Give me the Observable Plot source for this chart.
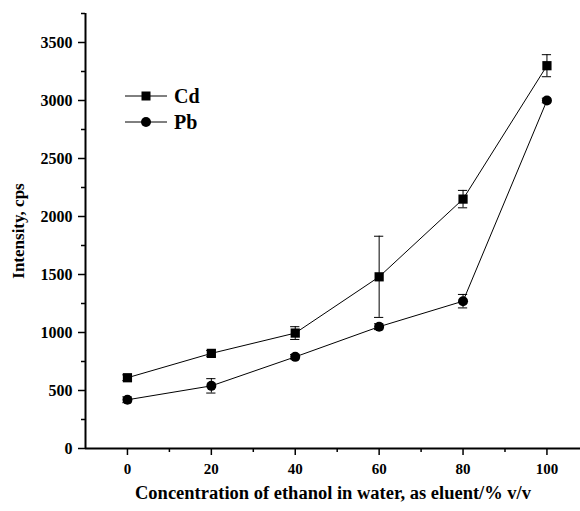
<!DOCTYPE html>
<html>
<head>
<meta charset="utf-8">
<script src="https://cdn.jsdelivr.net/npm/d3@7"></script>
<script src="https://cdn.jsdelivr.net/npm/@observablehq/plot@0.6"></script>
<style>
  html, body { margin: 0; padding: 0; background: #fff; }
  #chart svg { display: block; }
  #chart svg, #chart svg text { font-family: "Liberation Serif", "DejaVu Serif", serif !important; font-weight: bold; }
</style>
</head>
<body>
<div id="chart"></div>
<script>
const concentrations = [0, 20, 40, 60, 80, 100];
const cdValues = [610, 820, 995, 1480, 2150, 3300];
const cdErrors = [25, 25, 55, 350, 75, 95];
const pbValues = [420, 540, 790, 1050, 1270, 3000];
const pbErrors = [25, 62, 20, 25, 58, 20];
const seriesNames = ["Cd", "Pb"];
const xMajorTicks = [0, 20, 40, 60, 80, 100];
const xMinorTicks = [10, 30, 50, 70, 90];
const yMajorTicks = [0, 500, 1000, 1500, 2000, 2500, 3000, 3500];
const yMinorTicks = [250, 750, 1250, 1750, 2250, 2750, 3250, 3750];

const cd = concentrations.map((x, i) => ({x, y: cdValues[i], e: cdErrors[i], s: "Cd"}));
const pb = concentrations.map((x, i) => ({x, y: pbValues[i], e: pbErrors[i], s: "Pb"}));
const all = cd.concat(pb);
const capHalf = 1.1;

const font = "Liberation Serif, DejaVu Serif, serif";

const plot = Plot.plot({
  width: 580,
  height: 511,
  marginLeft: 85,
  marginTop: 13,
  marginBottom: 63,
  marginRight: 0,
  style: {fontWeight: "bold", fontSize: "15px", color: "#000", background: "#fff"},
  x: {domain: [-10, 108]},
  y: {domain: [0, 3750]},
  marks: [
    Plot.axisY({ticks: yMajorTicks, tickSize: 7, tickPadding: 6, strokeWidth: 1.5, tickFormat: "d",
      label: "Intensity, cps", labelAnchor: "center", labelArrow: "none", labelOffset: 74, fontSize: 16}),
    Plot.axisY({ticks: yMinorTicks, tickSize: 4, text: null, label: null, strokeWidth: 1.5}),
    Plot.axisX({ticks: xMajorTicks, tickSize: 7, tickPadding: 8, strokeWidth: 1.5, tickFormat: "d",
      label: "Concentration of ethanol in water, as eluent/% v/v", labelAnchor: "center", labelArrow: "none", labelOffset: 50, fontSize: 15}),
    Plot.axisX({ticks: xMinorTicks, tickSize: 4, text: null, label: null, strokeWidth: 1.5}),
    Plot.ruleX([-10], {strokeWidth: 2}),
    Plot.ruleY([0], {strokeWidth: 2}),
    Plot.line(all, {x: "x", y: "y", z: "s", stroke: "#000", strokeWidth: 1}),
    Plot.ruleX(all, {x: "x", y1: d => d.y - d.e, y2: d => d.y + d.e, stroke: "#000", strokeWidth: 1}),
    Plot.ruleY(all, {y: d => d.y - d.e, x1: d => d.x - capHalf, x2: d => d.x + capHalf, stroke: "#000", strokeWidth: 1}),
    Plot.ruleY(all, {y: d => d.y + d.e, x1: d => d.x - capHalf, x2: d => d.x + capHalf, stroke: "#000", strokeWidth: 1}),
    Plot.dot(cd, {x: "x", y: "y", symbol: "square", r: 5.2, fill: "#000", stroke: "none"}),
    Plot.dot(pb, {x: "x", y: "y", symbol: "circle", r: 5, fill: "#000", stroke: "none"})
  ]
});

const svg = d3.select(plot);
svg.attr("font-family", font);
svg.selectAll("[aria-label='y-axis label'] text").style("font-size", "17px");
svg.selectAll("[aria-label='x-axis label'] text").style("font-size", "18.5px");

// legend inside plot frame
const legend = svg.append("g").attr("font-size", 20);
const symbols = ["square", "circle"];
seriesNames.forEach((name, i) => {
  const y = 96 + i * 26;
  legend.append("line").attr("x1", 125).attr("x2", 167).attr("y1", y).attr("y2", y).attr("stroke", "#000").attr("stroke-width", 1);
  if (symbols[i] === "square") legend.append("rect").attr("x", 141.5).attr("y", y - 4.5).attr("width", 9).attr("height", 9).attr("fill", "#000");
  else legend.append("circle").attr("cx", 146).attr("cy", y).attr("r", 5).attr("fill", "#000");
  legend.append("text").attr("x", 174).attr("y", y).attr("dy", "0.35em").attr("text-anchor", "start").text(name);
});

document.getElementById("chart").appendChild(plot);
</script>
</body>
</html>
